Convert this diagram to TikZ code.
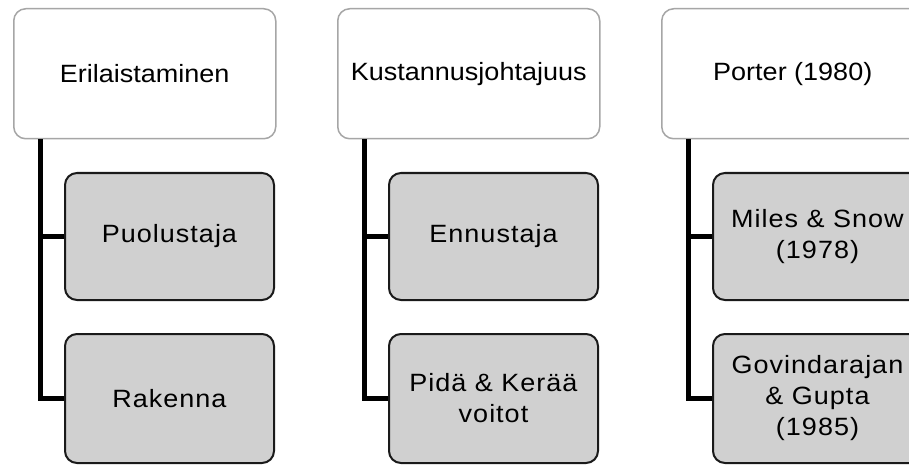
\documentclass[tikz,border=0pt]{standalone}
\usepackage{fontspec}
\newfontfamily\topfont[FakeStretch=1.08]{Liberation Sans}
\newfontfamily\childfont[FakeStretch=1.08,LetterSpace=4]{Liberation Sans}
\definecolor{topborder}{HTML}{A6A6A6}
\definecolor{childfill}{HTML}{D0D0D0}
\definecolor{childborder}{HTML}{1A1A1A}
\tikzset{
  topbox/.style={draw=topborder, line width=1.5pt, fill=white, rounded corners=12pt,
    anchor=north west, minimum width=262pt, minimum height=130pt, inner sep=2pt,
    align=center, font=\topfont\fontsize{25pt}{30pt}\selectfont},
  childbox/.style={draw=childborder, line width=2pt, fill=childfill, rounded corners=12pt,
    anchor=north west, minimum width=209pt, inner sep=2pt,
    align=center, font=\childfont\fontsize{25pt}{31pt}\selectfont},
  conn/.style={draw=black, line width=5pt}
}
\begin{document}
\begin{tikzpicture}[x=1pt,y=-1pt]
\useasboundingbox (0,0) rectangle (909,465);
\fill[white] (0,0) rectangle (909,465);
% column 1
\node[topbox] (t1) at (13,8) {Erilaistaminen};
\node[childbox, minimum height=127pt] (c11) at (64,172) {Puolustaja};
\node[childbox, minimum height=129pt] (c12) at (64,333) {Rakenna};
% column 2
\node[topbox] (t2) at (337,8) {Kustannusjohtajuus};
\node[childbox, minimum height=127pt] (c21) at (388,172) {Ennustaja};
\node[childbox, minimum height=129pt] (c22) at (388,333) {Pidä \& Kerää\\voitot};
% column 3
\node[topbox] (t3) at (661,8) {Porter (1980)};
\node[childbox, minimum height=127pt] (c31) at (712,172) {Miles \& Snow\\(1978)};
\node[childbox, minimum height=129pt] (c32) at (712,333) {Govindarajan\\\& Gupta\\(1985)};
% connector roots
\coordinate (v1) at (t1.south west -| 40,0);
\coordinate (v2) at (t2.south west -| 364,0);
\coordinate (v3) at (t3.south west -| 688,0);
\foreach \i in {1,2,3}{
  \draw[conn] (v\i) |- (c\i2.west);
  \draw[conn] (v\i |- c\i1.west) -- (c\i1.west);
}
\end{tikzpicture}
\end{document}
